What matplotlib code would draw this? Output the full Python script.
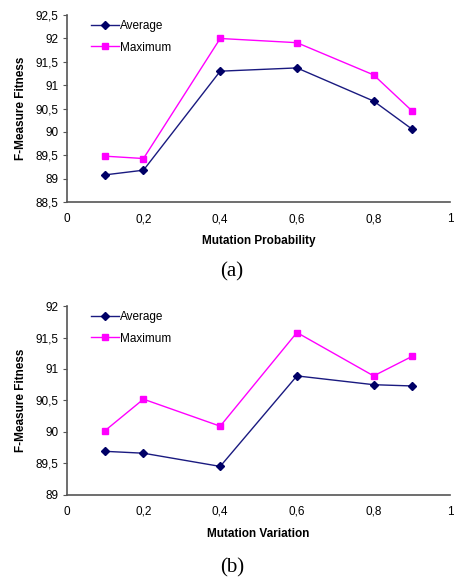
import matplotlib
matplotlib.use("Agg")
import matplotlib.pyplot as plt
from matplotlib.ticker import FuncFormatter, MultipleLocator

x_vals = [0.1, 0.2, 0.4, 0.6, 0.8, 0.9]
avg_a = [89.08, 89.18, 91.30, 91.37, 90.66, 90.06]
max_a = [89.48, 89.43, 92.00, 91.91, 91.22, 90.45]
avg_b = [89.69, 89.66, 89.45, 90.89, 90.75, 90.73]
max_b = [90.02, 90.52, 90.09, 91.58, 90.89, 91.20]
xlabel_a = "Mutation Probability"
xlabel_b = "Mutation Variation"
ylabel = "F-Measure Fitness"
legend_labels = ["Average", "Maximum"]
captions = ["(a)", "(b)"]

plt.rcParams['font.family'] = ['Liberation Sans', 'DejaVu Sans']

fig = plt.figure(figsize=(4.54, 5.82), dpi=100)

def fmt(v, pos):
    s = ("%g" % round(v, 2))
    return s.replace('.', ',')

def panel(rect, avg, mx, ylim, xlabel, caption, cap_y):
    ax = fig.add_axes(rect)
    l1, = ax.plot(x_vals, avg, color='#1a1a80', marker='D', markersize=4.5,
                  markerfacecolor='#000066', markeredgecolor='#000066', lw=1)
    l2, = ax.plot(x_vals, mx, color='#ff00ff', marker='s', markersize=5,
                  markerfacecolor='#ff00ff', markeredgecolor='#ff00ff', lw=1)
    ax.set_xlim(0, 1)
    ax.set_ylim(*ylim)
    ax.xaxis.set_major_locator(MultipleLocator(0.2))
    ax.yaxis.set_major_locator(MultipleLocator(0.5))
    ax.xaxis.set_major_formatter(FuncFormatter(fmt))
    ax.yaxis.set_major_formatter(FuncFormatter(fmt))
    for s in ['top', 'right']:
        ax.spines[s].set_visible(False)
    for s in ['left', 'bottom']:
        ax.spines[s].set_color('#555555')
        ax.spines[s].set_linewidth(1.2)
    ax.tick_params(axis='y', length=3, width=0.8, color='#555555', labelsize=8.5, pad=3)
    ax.tick_params(axis='x', length=0, labelsize=8.5, pad=8)
    ax.set_xlabel(xlabel, fontsize=8.5, fontweight='bold', labelpad=7)
    ax.set_ylabel(ylabel, fontsize=8.5, fontweight='bold', labelpad=6)
    ax.legend([l1, l2], legend_labels, loc='upper left', frameon=False,
              fontsize=8.5, handlelength=2.4, handletextpad=0.1,
              bbox_to_anchor=(0.035, 1.03), labelspacing=0.8)
    fig.text(232/454, cap_y, caption, ha='center', va='center',
             fontsize=15, family='Liberation Serif')
    return ax

panel([0.147, 0.653, 0.845, 0.321], avg_a, max_a, (88.5, 92.5),
      xlabel_a, captions[0], 1 - 272/582)
panel([0.147, 0.150, 0.845, 0.324], avg_b, max_b, (89, 92),
      xlabel_b, captions[1], 1 - 568/582)

fig.savefig("out.png", dpi=100)
